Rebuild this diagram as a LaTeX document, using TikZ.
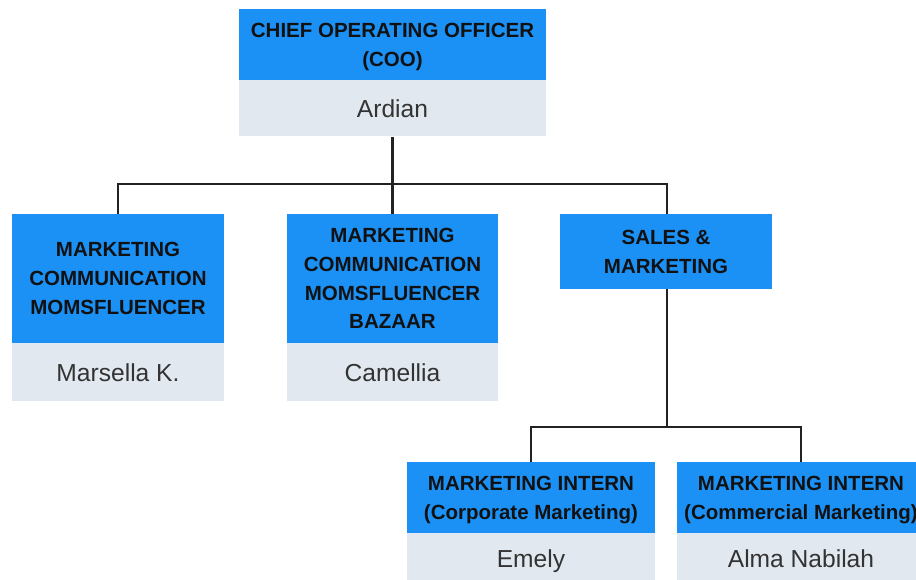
\documentclass[tikz,border=0pt]{standalone}
\usepackage{fontspec}
\setmainfont{Liberation Sans}
\definecolor{rolefill}{HTML}{1B91F6}
\definecolor{namefill}{HTML}{E1E8EF}
\definecolor{roletext}{HTML}{111111}
\definecolor{nametext}{HTML}{333333}
\definecolor{wire}{HTML}{222222}
\begin{document}
\begin{tikzpicture}[x=1pt,y=-1pt,
  role/.style={fill=rolefill, text=roletext, inner sep=0pt, align=center,
    text depth=0pt, font=\fontsize{20.5}{28.8}\selectfont\bfseries},
  person/.style={fill=namefill, text=nametext, inner sep=0pt, align=center,
    text depth=0pt, font=\fontsize{24.6}{28}\selectfont},
  link/.style={draw=wire, line width=2.2pt}]
\clip (0,0) rectangle (916,579);
\fill[white] (0,0) rectangle (916,579);

% top card
\node[role, minimum width=307pt, minimum height=71pt] (cooT) at (392.5,44.5)
  {CHIEF OPERATING OFFICER\\(COO)};
\node[person, minimum width=307pt, minimum height=56pt, anchor=north] (cooN) at (cooT.south) {Ardian};

% second level
\node[role, minimum width=212pt, minimum height=129pt] (mcT) at (118,278.5)
  {MARKETING\\COMMUNICATION\\MOMSFLUENCER};
\node[person, minimum width=212pt, minimum height=58pt, anchor=north] (mcN) at (mcT.south) {Marsella K.};

\node[role, minimum width=211pt, minimum height=129pt] (mbT) at (392.5,278.5)
  {MARKETING\\COMMUNICATION\\MOMSFLUENCER\\BAZAAR};
\node[person, minimum width=211pt, minimum height=58pt, anchor=north] (mbN) at (mbT.south) {Camellia};

\node[role, minimum width=212pt, minimum height=75pt] (smT) at (666,251.5)
  {SALES \&\\MARKETING};

% interns
\node[role, minimum width=248pt, minimum height=71pt] (icT) at (531,497.5)
  {MARKETING INTERN\\(Corporate Marketing)};
\node[person, minimum width=248pt, minimum height=50pt, anchor=north] (icN) at (icT.south) {Emely};

\node[role, minimum width=248pt, minimum height=71pt] (imT) at (801,497.5)
  {MARKETING INTERN\\(Commercial Marketing)};
\node[person, minimum width=248pt, minimum height=50pt, anchor=north] (imN) at (imT.south) {Alma Nabilah};

% reporting lines
\coordinate (busA) at ([yshift=-47pt]cooN.south);
\draw[link] (cooN.south) -- (busA);
\draw[link] (busA) -| (mcT.north);
\draw[link] (busA) -- (mbT.north);
\draw[link] (busA) -| ([xshift=1pt]smT.north);

\coordinate (busB) at ([xshift=1pt,yshift=-138pt]smT.south);
\draw[link] ([xshift=1pt]smT.south) -- (busB);
\draw[link] (busB) -| (icT.north);
\draw[link] (busB) -| (imT.north);
\end{tikzpicture}
\end{document}
